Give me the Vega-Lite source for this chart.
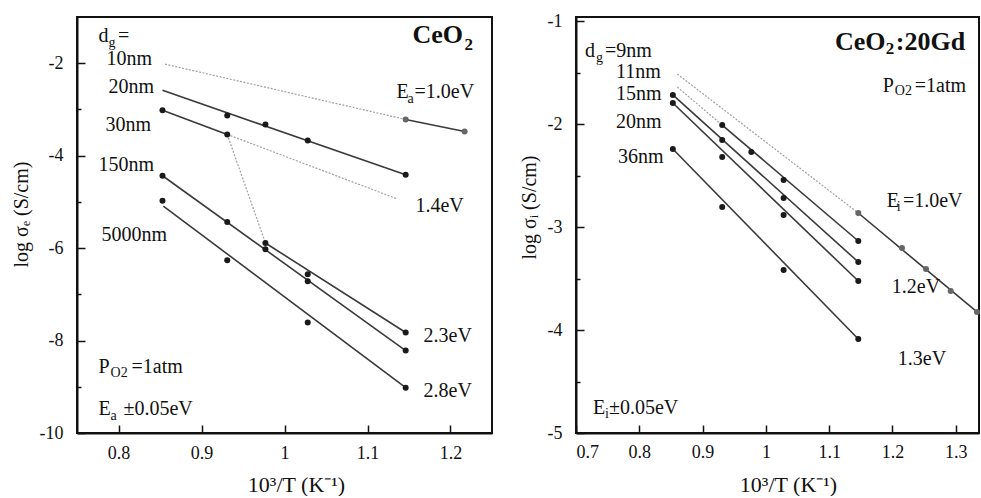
{
  "$schema": "https://vega.github.io/schema/vega-lite/v6.json",
  "padding": {"left": 10, "top": 11, "right": 0, "bottom": 0},
  "config": {
    "font": "Liberation Serif",
    "view": {"stroke": "#111", "strokeWidth": 2},
    "axis": {"domainColor": "#111", "domainWidth": 2, "tickColor": "#111", "tickWidth": 1.5, "labelColor": "#111", "labelFont": "Liberation Serif", "labelFontSize": 18, "titleFont": "Liberation Serif", "titleFontSize": 20, "titleFontWeight": "normal", "titleColor": "#111", "grid": false}
  },
  "datasets": {
    "leftGuide": [
      {"seg": "g1", "x": 0.856, "y": -2.02}, {"seg": "g1", "x": 1.146, "y": -3.217},
      {"seg": "g2", "x": 0.931, "y": -3.54}, {"seg": "g2", "x": 1.135, "y": -4.93},
      {"seg": "g3", "x": 0.931, "y": -3.54}, {"seg": "g3", "x": 0.977, "y": -5.89}
    ],
    "leftFit": [
      {"seg": "f1", "x": 1.146, "y": -3.217}, {"seg": "f1", "x": 1.217, "y": -3.478},
      {"seg": "f2", "x": 0.853, "y": -2.587}, {"seg": "f2", "x": 1.146, "y": -4.413},
      {"seg": "f3", "x": 0.853, "y": -3.02}, {"seg": "f3", "x": 0.931, "y": -3.54},
      {"seg": "f4", "x": 0.977, "y": -5.89}, {"seg": "f4", "x": 1.146, "y": -7.826},
      {"seg": "f5", "x": 0.853, "y": -4.435}, {"seg": "f5", "x": 1.146, "y": -8.217},
      {"seg": "f6", "x": 0.854, "y": -5.09}, {"seg": "f6", "x": 1.146, "y": -9.02}
    ],
    "leftPts": [
      {"series": "10nm", "x": 1.146, "y": -3.217}, {"series": "10nm", "x": 1.217, "y": -3.478},
      {"series": "20nm", "x": 0.931, "y": -3.13}, {"series": "20nm", "x": 0.977, "y": -3.326}, {"series": "20nm", "x": 1.028, "y": -3.674}, {"series": "20nm", "x": 1.146, "y": -4.413},
      {"series": "30nm", "x": 0.853, "y": -3.02}, {"series": "30nm", "x": 0.931, "y": -3.54}, {"series": "30nm", "x": 0.977, "y": -5.89}, {"series": "30nm", "x": 1.028, "y": -6.565}, {"series": "30nm", "x": 1.146, "y": -7.826},
      {"series": "150nm", "x": 0.853, "y": -4.435}, {"series": "150nm", "x": 0.931, "y": -5.435}, {"series": "150nm", "x": 0.977, "y": -6.022}, {"series": "150nm", "x": 1.028, "y": -6.717}, {"series": "150nm", "x": 1.146, "y": -8.217},
      {"series": "5000nm", "x": 0.853, "y": -4.978}, {"series": "5000nm", "x": 0.931, "y": -6.26}, {"series": "5000nm", "x": 1.028, "y": -7.609}, {"series": "5000nm", "x": 1.146, "y": -9.02}
    ],
    "leftText": [
      {"t": "d", "x": 0.7759, "y": -1.543}, {"t": "=", "x": 0.7995, "y": -1.543},
      {"t": "10nm", "x": 0.7855, "y": -2.043}, {"t": "20nm", "x": 0.788, "y": -2.652},
      {"t": "30nm", "x": 0.7843, "y": -3.457}, {"t": "150nm", "x": 0.7759, "y": -4.326},
      {"t": "5000nm", "x": 0.7795, "y": -5.848},
      {"t": "E", "x": 1.1349, "y": -2.761}, {"t": "=1.0eV", "x": 1.1566, "y": -2.761},
      {"t": "1.4eV", "x": 1.1578, "y": -5.217}, {"t": "2.3eV", "x": 1.1675, "y": -8.022},
      {"t": "2.8eV", "x": 1.1675, "y": -9.217},
      {"t": "P", "x": 0.7759, "y": -8.696}, {"t": "=1atm", "x": 0.8157, "y": -8.696},
      {"t": "E", "x": 0.7759, "y": -9.609}, {"t": "±0.05eV", "x": 0.806, "y": -9.609}
    ],
    "leftSub": [
      {"t": "g", "x": 0.788, "y": -1.652}, {"t": "a", "x": 1.1482, "y": -2.87},
      {"t": "O2", "x": 0.7904, "y": -8.783}, {"t": "a", "x": 0.7904, "y": -9.717}
    ],
    "leftBold": [{"t": "CeO", "x": 1.1542, "y": -1.565}],
    "leftBoldSub": [{"t": "2", "x": 1.2169, "y": -1.717}],
    "rightGuide": [
      {"seg": "g1", "x": 0.86, "y": -1.515}, {"seg": "g1", "x": 1.146, "y": -2.864},
      {"seg": "g2", "x": 0.86, "y": -1.641}, {"seg": "g2", "x": 0.931, "y": -2.01}
    ],
    "rightFit": [
      {"seg": "f1", "x": 1.146, "y": -2.864}, {"seg": "f1", "x": 1.3335, "y": -3.825},
      {"seg": "f2", "x": 0.931, "y": -2.01}, {"seg": "f2", "x": 1.146, "y": -3.136},
      {"seg": "f3", "x": 0.853, "y": -1.718}, {"seg": "f3", "x": 1.146, "y": -3.34},
      {"seg": "f4", "x": 0.853, "y": -1.796}, {"seg": "f4", "x": 1.146, "y": -3.524},
      {"seg": "f5", "x": 0.853, "y": -2.243}, {"seg": "f5", "x": 1.146, "y": -4.087}
    ],
    "rightPts": [
      {"series": "9nm", "x": 1.146, "y": -2.864}, {"series": "9nm", "x": 1.215, "y": -3.204}, {"series": "9nm", "x": 1.253, "y": -3.408}, {"series": "9nm", "x": 1.292, "y": -3.621}, {"series": "9nm", "x": 1.3335, "y": -3.825},
      {"series": "11nm", "x": 0.931, "y": -2.01}, {"series": "11nm", "x": 0.977, "y": -2.272}, {"series": "11nm", "x": 1.028, "y": -2.544}, {"series": "11nm", "x": 1.146, "y": -3.136},
      {"series": "15nm", "x": 0.853, "y": -1.718}, {"series": "15nm", "x": 0.931, "y": -2.155}, {"series": "15nm", "x": 1.028, "y": -2.718}, {"series": "15nm", "x": 1.146, "y": -3.34},
      {"series": "20nm", "x": 0.853, "y": -1.796}, {"series": "20nm", "x": 0.931, "y": -2.32}, {"series": "20nm", "x": 1.028, "y": -2.883}, {"series": "20nm", "x": 1.146, "y": -3.524},
      {"series": "36nm", "x": 0.853, "y": -2.243}, {"series": "36nm", "x": 0.931, "y": -2.806}, {"series": "36nm", "x": 1.028, "y": -3.417}, {"series": "36nm", "x": 1.146, "y": -4.087}
    ],
    "rightText": [
      {"t": "d", "x": 0.7142, "y": -1.35}, {"t": "=9nm", "x": 0.7458, "y": -1.35},
      {"t": "11nm", "x": 0.7632, "y": -1.553}, {"t": "15nm", "x": 0.7632, "y": -1.767},
      {"t": "20nm", "x": 0.7632, "y": -2.039}, {"t": "36nm", "x": 0.7663, "y": -2.379},
      {"t": "P", "x": 1.1848, "y": -1.689}, {"t": "=1atm", "x": 1.2353, "y": -1.689},
      {"t": "E", "x": 1.1911, "y": -2.806}, {"t": "=1.0eV", "x": 1.2165, "y": -2.806},
      {"t": "1.2eV", "x": 1.199, "y": -3.641}, {"t": "1.3eV", "x": 1.2084, "y": -4.34},
      {"t": "E", "x": 0.7268, "y": -4.816}, {"t": "±0.05eV", "x": 0.7521, "y": -4.816}
    ],
    "rightSub": [
      {"t": "g", "x": 0.7316, "y": -1.398}, {"t": "O2", "x": 1.2037, "y": -1.718},
      {"t": "i", "x": 1.2069, "y": -2.845}, {"t": "i", "x": 0.7458, "y": -4.854}
    ],
    "rightBold": [{"t": "CeO", "x": 1.109, "y": -1.282}, {"t": ":20Gd", "x": 1.2053, "y": -1.282}],
    "rightBoldSub": [{"t": "2", "x": 1.1895, "y": -1.32}]
  },
  "spacing": 25,
  "hconcat": [
    {
      "width": 415, "height": 416,
      "layer": [
        {
          "data": {"name": "leftGuide"},
          "mark": {"type": "line", "color": "#a0a0a0", "strokeWidth": 1.2, "strokeDash": [2, 1.5]},
          "encoding": {
            "x": {"field": "x", "type": "quantitative", "scale": {"domain": [0.75, 1.25], "nice": false, "zero": false},
                  "axis": {"title": "10³/T (K⁻¹)", "titleFontSize": 22, "titleX": 219, "values": [0.8, 0.9, 1.0, 1.1, 1.2], "labelExpr": "'' + datum.value", "tickSize": -8, "labelPadding": 19, "titlePadding": 12}},
            "y": {"field": "y", "type": "quantitative", "scale": {"domain": [-10, -1], "nice": false, "zero": false},
                  "axis": {"title": "log σₑ (S/cm)", "titleY": 197, "values": [-10, -9, -8, -7, -6, -5, -4, -3, -2],
                           "labelExpr": "datum.value % 2 === 0 ? '' + datum.value : ''",
                           "tickSize": {"condition": {"test": "datum.value % 2 === 0", "value": -8}, "value": -4},
                           "labelPadding": 22, "titlePadding": 8}},
            "detail": {"field": "seg"}
          }
        },
        {
          "data": {"name": "leftFit"},
          "mark": {"type": "line", "color": "#3a3a3a", "strokeWidth": 1.6},
          "encoding": {"x": {"field": "x", "type": "quantitative"}, "y": {"field": "y", "type": "quantitative"}, "detail": {"field": "seg"}}
        },
        {
          "data": {"name": "leftPts"},
          "mark": {"type": "point", "filled": true, "size": 36, "opacity": 1},
          "encoding": {"x": {"field": "x", "type": "quantitative"}, "y": {"field": "y", "type": "quantitative"},
                       "color": {"condition": {"test": "datum.series === '10nm'", "value": "#666"}, "value": "#1a1a1a"}}
        },
        {
          "data": {"name": "leftText"},
          "mark": {"type": "text", "align": "left", "baseline": "alphabetic", "fontSize": 20, "color": "#111"},
          "encoding": {"x": {"field": "x", "type": "quantitative"}, "y": {"field": "y", "type": "quantitative"}, "text": {"field": "t"}}
        },
        {
          "data": {"name": "leftSub"},
          "mark": {"type": "text", "align": "left", "baseline": "alphabetic", "fontSize": 14, "color": "#111"},
          "encoding": {"x": {"field": "x", "type": "quantitative"}, "y": {"field": "y", "type": "quantitative"}, "text": {"field": "t"}}
        },
        {
          "data": {"name": "leftBold"},
          "mark": {"type": "text", "align": "left", "baseline": "alphabetic", "fontSize": 26, "fontWeight": "bold", "color": "#111"},
          "encoding": {"x": {"field": "x", "type": "quantitative"}, "y": {"field": "y", "type": "quantitative"}, "text": {"field": "t"}}
        },
        {
          "data": {"name": "leftBoldSub"},
          "mark": {"type": "text", "align": "left", "baseline": "alphabetic", "fontSize": 17, "fontWeight": "bold", "color": "#111"},
          "encoding": {"x": {"field": "x", "type": "quantitative"}, "y": {"field": "y", "type": "quantitative"}, "text": {"field": "t"}}
        }
      ]
    },
    {
      "width": 403, "height": 416,
      "layer": [
        {
          "data": {"name": "rightGuide"},
          "mark": {"type": "line", "color": "#a0a0a0", "strokeWidth": 1.2, "strokeDash": [2, 1.5]},
          "encoding": {
            "x": {"field": "x", "type": "quantitative", "scale": {"domain": [0.7, 1.3367], "nice": false, "zero": false},
                  "axis": {"title": "10³/T (K⁻¹)", "titleFontSize": 22, "titleX": 212, "values": [0.7, 0.8, 0.9, 1.0, 1.1, 1.2, 1.3], "labelExpr": "'' + datum.value", "tickSize": -8, "labelPadding": 18, "titlePadding": 13}},
            "y": {"field": "y", "type": "quantitative", "scale": {"domain": [-5, -0.961], "nice": false, "zero": false},
                  "axis": {"title": "log σᵢ (S/cm)", "titleY": 190, "values": [-5, -4.5, -4, -3.5, -3, -2.5, -2, -1.5, -1],
                           "labelExpr": "datum.value % 1 === 0 ? '' + datum.value : ''",
                           "tickSize": {"condition": {"test": "datum.value % 1 === 0", "value": -8}, "value": -4},
                           "labelPadding": 22, "titlePadding": 8}},
            "detail": {"field": "seg"}
          }
        },
        {
          "data": {"name": "rightFit"},
          "mark": {"type": "line", "color": "#3a3a3a", "strokeWidth": 1.6},
          "encoding": {"x": {"field": "x", "type": "quantitative"}, "y": {"field": "y", "type": "quantitative"}, "detail": {"field": "seg"}}
        },
        {
          "data": {"name": "rightPts"},
          "mark": {"type": "point", "filled": true, "size": 36, "opacity": 1},
          "encoding": {"x": {"field": "x", "type": "quantitative"}, "y": {"field": "y", "type": "quantitative"},
                       "color": {"condition": {"test": "datum.series === '9nm'", "value": "#666"}, "value": "#1a1a1a"}}
        },
        {
          "data": {"name": "rightText"},
          "mark": {"type": "text", "align": "left", "baseline": "alphabetic", "fontSize": 20, "color": "#111"},
          "encoding": {"x": {"field": "x", "type": "quantitative"}, "y": {"field": "y", "type": "quantitative"}, "text": {"field": "t"}}
        },
        {
          "data": {"name": "rightSub"},
          "mark": {"type": "text", "align": "left", "baseline": "alphabetic", "fontSize": 14, "color": "#111"},
          "encoding": {"x": {"field": "x", "type": "quantitative"}, "y": {"field": "y", "type": "quantitative"}, "text": {"field": "t"}}
        },
        {
          "data": {"name": "rightBold"},
          "mark": {"type": "text", "align": "left", "baseline": "alphabetic", "fontSize": 26, "fontWeight": "bold", "color": "#111"},
          "encoding": {"x": {"field": "x", "type": "quantitative"}, "y": {"field": "y", "type": "quantitative"}, "text": {"field": "t"}}
        },
        {
          "data": {"name": "rightBoldSub"},
          "mark": {"type": "text", "align": "left", "baseline": "alphabetic", "fontSize": 17, "fontWeight": "bold", "color": "#111"},
          "encoding": {"x": {"field": "x", "type": "quantitative"}, "y": {"field": "y", "type": "quantitative"}, "text": {"field": "t"}}
        }
      ]
    }
  ]
}
